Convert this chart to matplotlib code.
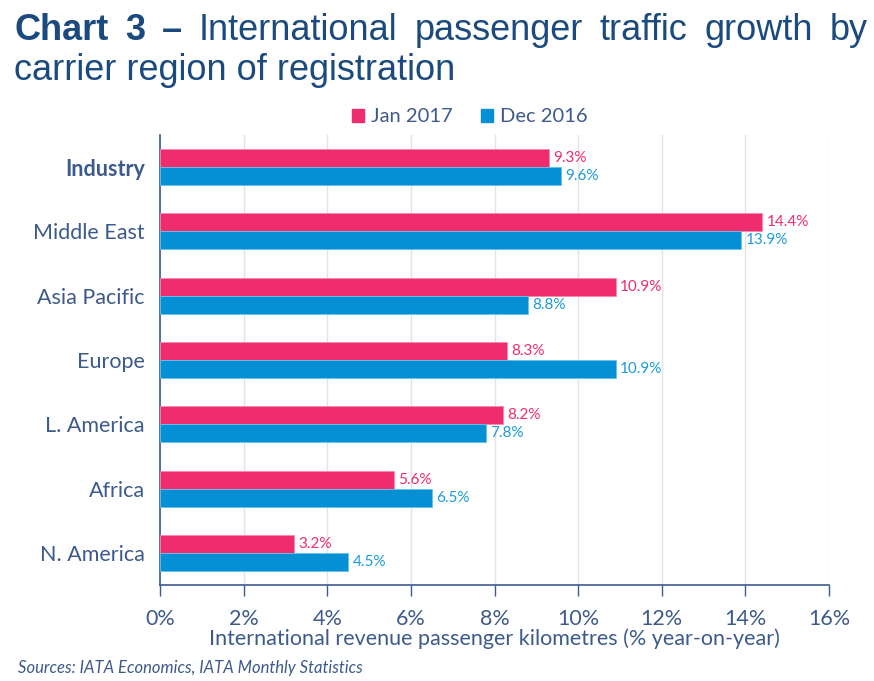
import matplotlib
matplotlib.use("Agg")
import matplotlib.pyplot as plt
import numpy as np
from matplotlib import font_manager

# data
regions = ["Industry", "Middle East", "Asia Pacific", "Europe", "L. America", "Africa", "N. America"]
jan_2017 = [9.3, 14.4, 10.9, 8.3, 8.2, 5.6, 3.2]
dec_2016 = [9.6, 13.9, 8.8, 10.9, 7.8, 6.5, 4.5]
series_names = ["Jan 2017", "Dec 2016"]
xticks = [0, 2, 4, 6, 8, 10, 12, 14, 16]

PINK = "#EE2C6E"
BLUE = "#058FD5"
BLUE_TXT = "#1A9BDB"
AXIS_TXT = "#3D5A8C"
TITLE_C = "#1B4A7E"
GRID_C = "#E3E3E3"

names = {f.name for f in font_manager.fontManager.ttflist}
narrow = "Liberation Sans Narrow" if "Liberation Sans Narrow" in names else "Liberation Sans"
title_size = 27.5 if narrow == "Liberation Sans Narrow" else 26
body = ["Lato", "DejaVu Sans"]

W, H = 874, 681
fig = plt.figure(figsize=(W / 100, H / 100), dpi=100)
ax = fig.add_axes([160 / W, 1 - 585 / H, (829 - 160) / W, (585 - 135) / H])

y = np.arange(len(regions))
bh = 0.28
ax.barh(y - bh / 2, jan_2017, height=bh, color=PINK, edgecolor="#F48AAE", linewidth=0.6, zorder=3)
ax.barh(y + bh / 2, dec_2016, height=bh, color=BLUE, edgecolor="#6CC0EA", linewidth=0.6, zorder=3)

for i, (a, b) in enumerate(zip(jan_2017, dec_2016)):
    ax.text(a + 0.1, i - bh / 2, f"{a:.1f}%", color=PINK, fontsize=11, family=body,
            va="center", ha="left")
    ax.text(b + 0.1, i + bh / 2, f"{b:.1f}%", color=BLUE_TXT, fontsize=11, family=body,
            va="center", ha="left")

ax.set_ylim(len(regions) - 0.5, -0.5)
ax.set_xlim(0, 16)
ax.set_xticks(xticks)
ax.set_xticklabels([f"{t}%" for t in xticks], family=body, fontsize=15.5, color=AXIS_TXT)
ax.set_yticks(y)
ax.set_yticklabels(regions, family=body, fontsize=15.5, color=AXIS_TXT)
ax.get_yticklabels()[0].set_fontweight("bold")
ax.tick_params(axis="y", length=0, pad=11)
ax.tick_params(axis="x", length=8, width=1, color=AXIS_TXT, pad=9)
ax.grid(axis="x", color=GRID_C, linewidth=1, zorder=0)
for s in ["top", "right"]:
    ax.spines[s].set_visible(False)
for s in ["left", "bottom"]:
    ax.spines[s].set_color(AXIS_TXT)
    ax.spines[s].set_linewidth(1.2)
ax.set_xlabel("International revenue passenger kilometres (% year-on-year)",
              family=body, fontsize=15.5, color=AXIS_TXT, labelpad=0)

# legend
handles = [plt.Rectangle((0, 0), 1, 1, color=PINK), plt.Rectangle((0, 0), 1, 1, color=BLUE)]
leg = fig.legend(handles, series_names, loc="center", bbox_to_anchor=(470 / W, 1 - 117 / H),
                 ncol=2, frameon=False, prop={"family": body, "size": 14.5},
                 handlelength=0.6, handleheight=0.6, handletextpad=0.35, columnspacing=1.4)
for t in leg.get_texts():
    t.set_color(AXIS_TXT)

# title, first line justified
fig.canvas.draw()
r = fig.canvas.get_renderer()
words = [("Chart", "bold"), ("3", "bold"), ("–", "bold"), ("International", "normal"),
         ("passenger", "normal"), ("traffic", "normal"), ("growth", "normal"), ("by", "normal")]
arts = []
for w, wt in words:
    t = fig.text(0, 1 - 40 / H, w, fontsize=title_size, family=narrow, weight=wt, color=TITLE_C,
                 va="baseline", ha="left")
    arts.append(t)
widths = [t.get_window_extent(r).width for t in arts]
x0, x1 = 14, 868
gap = (x1 - x0 - sum(widths)) / (len(arts) - 1)
x = x0
for t, w in zip(arts, widths):
    t.set_x(x / W)
    x += w + gap
fig.text(14 / W, 1 - 80 / H, "carrier region of registration", fontsize=title_size, family=narrow,
         color=TITLE_C, va="baseline", ha="left")

fig.text(18 / W, 1 - 668 / H, "Sources: IATA Economics, IATA Monthly Statistics",
         family=body, style="italic", fontsize=12, color=AXIS_TXT, va="center", ha="left")

fig.savefig("out.png", dpi=100, facecolor="white")
